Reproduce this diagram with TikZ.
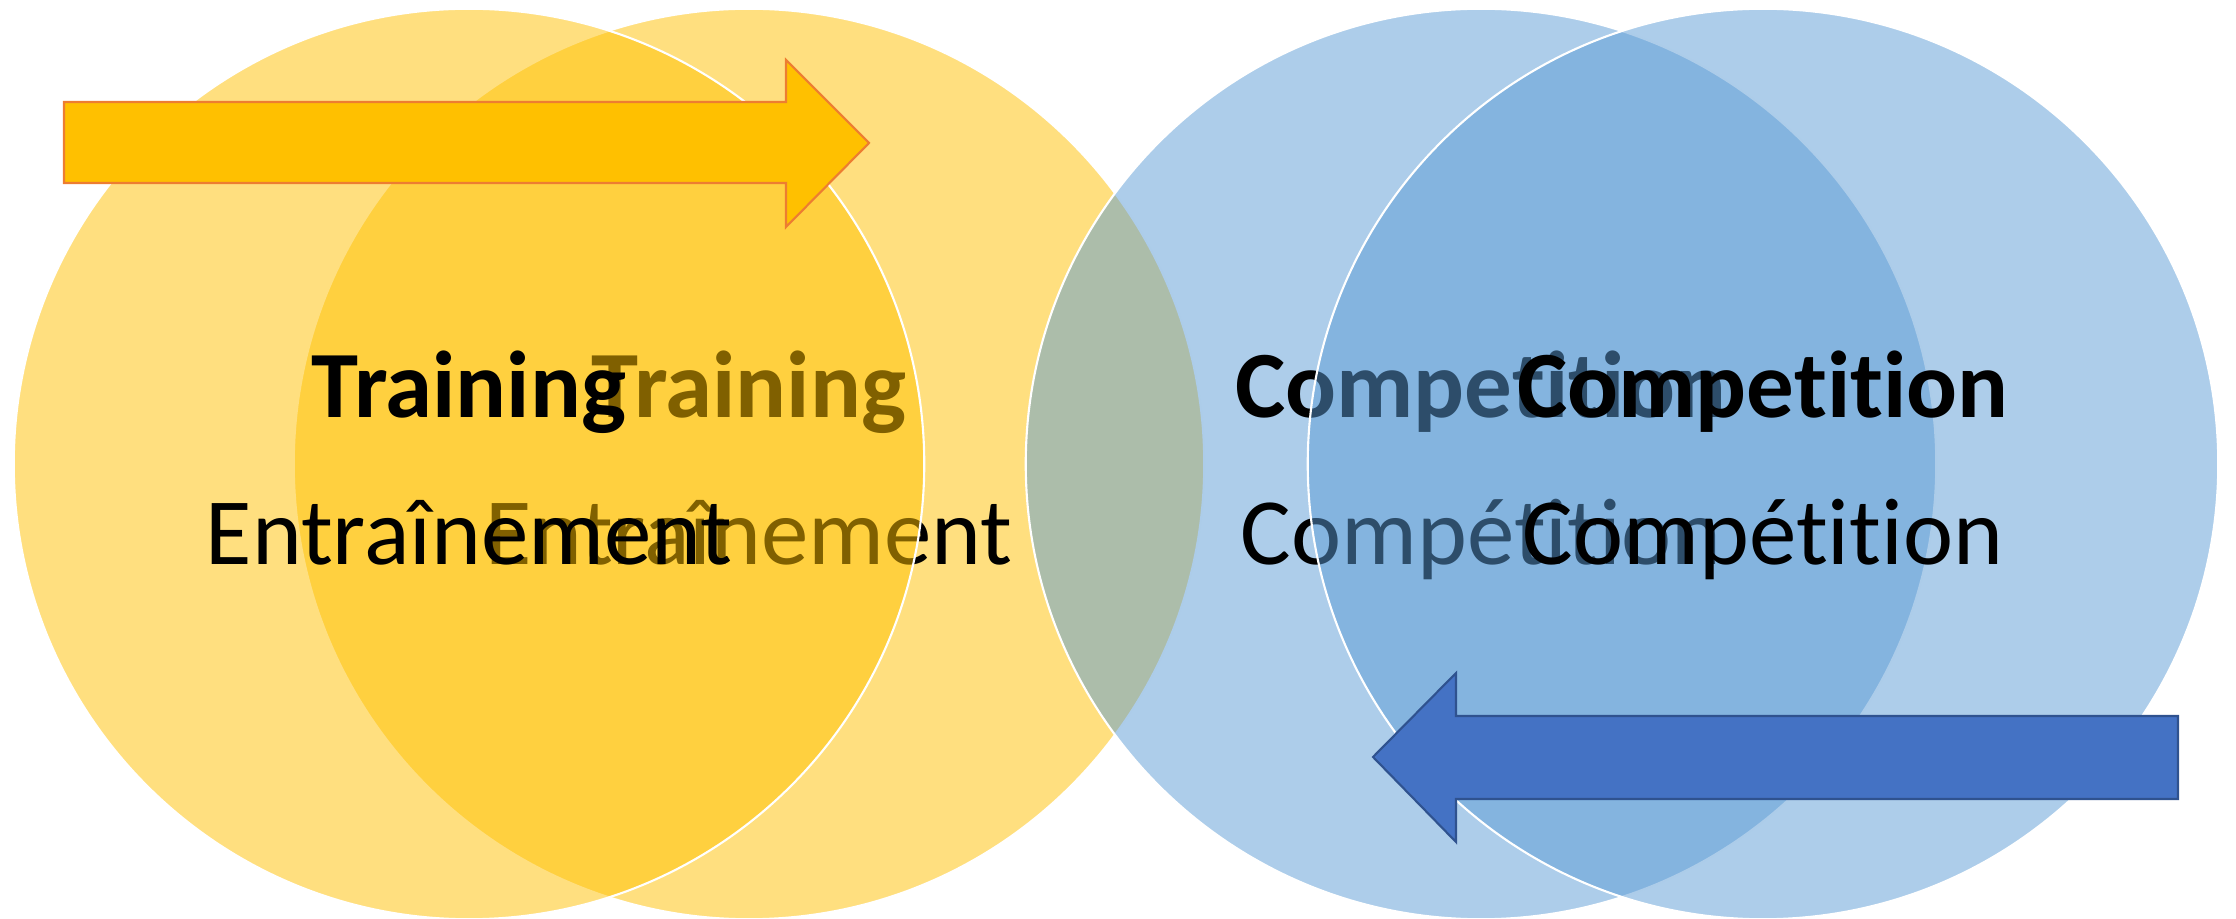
\documentclass[tikz,border=0pt]{standalone}
\usepackage{fontspec}
\setmainfont{Carlito}[Ligatures={NoCommon}]
\definecolor{gold}{HTML}{FFC000}
\definecolor{goldline}{HTML}{ED7D31}
\definecolor{sky}{HTML}{5B9BD5}
\definecolor{royal}{HTML}{4472C4}
\definecolor{royalline}{HTML}{2F528F}
\begin{document}
\begin{tikzpicture}[x=0.01cm,y=-0.01cm,
  yellowdisc/.style={fill=gold,fill opacity=0.5,draw=white,draw opacity=1,line width=0.6pt},
  bluedisc/.style={fill=sky,fill opacity=0.5,draw=white,draw opacity=1,line width=0.6pt},
  headline/.style={font=\fontsize{27}{32}\selectfont\bfseries,anchor=base,inner sep=0pt,text=black},
  subline/.style={font=\fontsize{27}{32}\selectfont,anchor=base,inner sep=0pt,text=black},
  yellowarrow/.style={fill=gold,draw=goldline,line width=0.6pt,line join=miter},
  bluearrow/.style={fill=royal,draw=royalline,line width=0.6pt,line join=miter}]
\useasboundingbox (0,0) rectangle (2236,919);

\coordinate (c1) at (469,464);
\coordinate (c2) at (749,464);
\coordinate (c3) at (1481,464);
\coordinate (c4) at (1763,464);

% second training disc and its labels
\path[yellowdisc] (c2) circle [radius=4.55cm];
\node[headline] (train2) at (749,418) {Training};
\node[subline] (entr2) at (749,565) {Entraînement};

% first training disc laid over it
\path[yellowdisc] (c1) circle [radius=4.55cm];
\node[headline] (train1) at (469,418) {Training};
\node[subline] (entr1) at (469,565) {Entraînement};

% competition discs
\path[bluedisc] (c3) circle [radius=4.55cm];
\node[headline] (comp3) at (1481,418) {Competition};
\node[subline] (compf3) at (1481,565) {Compétition};

\path[bluedisc] (c4) circle [radius=4.55cm];
\node[headline] (comp4) at (1763,418) {Competition};
\node[subline] (compf4) at (1763,565) {Compétition};

% block arrows
\path[yellowarrow] (64,102) -- (786,102) -- (786,60) -- (869,143) -- (786,227) -- (786,183) -- (64,183) -- cycle;
\path[bluearrow] (2178,716) -- (1456,716) -- (1456,673) -- (1373,757) -- (1456,842) -- (1456,799) -- (2178,799) -- cycle;
\end{tikzpicture}
\end{document}
